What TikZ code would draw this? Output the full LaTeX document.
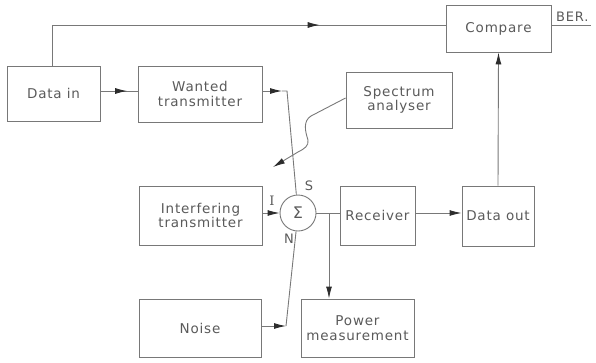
\documentclass[tikz,border=0pt]{standalone}
\usepackage{fontspec}
\setmainfont[LetterSpace=6]{DejaVu Sans}
\usetikzlibrary{arrows.meta,decorations.markings}
\definecolor{ln}{RGB}{120,120,120}
\definecolor{tx}{RGB}{90,90,90}
\definecolor{hd}{RGB}{45,45,45}
\tikzset{
  blk/.style={draw=ln,line width=0.9pt,text=tx,align=center,inner sep=0pt,font=\fontsize{13.5}{14.5}\selectfont},
  conn/.style={draw=ln,line width=0.9pt},
  tip/.style={-{Latex[length=12pt,width=6pt,color=hd]},draw=ln,line width=0.9pt},
  midarrow/.style={postaction={decorate},decoration={markings,mark=at position #1 with {\arrow{Latex[length=12pt,width=6pt,color=hd]}}}},
  lbl/.style={text=tx,font=\fontsize{13}{14}\selectfont,inner sep=0pt}
}
\begin{document}
\begin{tikzpicture}[x=1pt,y=-1pt]
\useasboundingbox (0,0) rectangle (596,362);
\node[blk,minimum width=93pt,minimum height=55pt] (datain) at (53.5,93.5) {Data in};
\node[blk,minimum width=124pt,minimum height=56pt] (wanted) at (200,94) {Wanted\\transmitter};
\node[blk,minimum width=105pt,minimum height=47pt] (compare) at (498.5,28.5) {Compare};
\node[blk,minimum width=106pt,minimum height=56pt] (spectrum) at (399,100) {Spectrum\\analyser};
\node[blk,minimum width=123pt,minimum height=59pt] (interf) at (200.5,215.5) {Interfering\\transmitter};
\node[blk,circle,minimum size=36pt,font=\fontsize{16}{16}\selectfont] (sum) at (298,213) {Σ};
\node[blk,minimum width=75pt,minimum height=59pt] (receiver) at (377.5,215.5) {Receiver};
\node[blk,minimum width=72pt,minimum height=60pt] (dataout) at (498,216) {Data out};
\node[blk,minimum width=122pt,minimum height=58pt] (noise) at (200,328) {Noise};
\node[blk,minimum width=113pt,minimum height=58pt] (power) at (357.5,328) {Power\\measurement};
\node[lbl] (S) at (309,186) {S};
\node[lbl] (I) at (272,201) {\fontspec{DejaVu Serif}I};
\node[lbl] (N) at (289,239) {N};
\node[lbl,anchor=south west] (ber) at (556,22) {BER.};
\coordinate (tl) at (52,25);
\coordinate (ws) at (287,91);
\coordinate (nc) at (286,326);
\coordinate (br) at (329,213);
\coordinate (berend) at (591,25);
% top feed
\draw[conn,midarrow=0.71] (datain.north -| tl) -- (tl) -- (tl -| compare.west);
% data in to wanted
\draw[conn,midarrow=0.72] (datain.east |- 0,91) -- (wanted.west |- 0,91);
% wanted to sum
\draw[tip] (wanted.east |- ws) -- ([xshift=-5pt]ws);
\draw[conn] ([xshift=-5pt]ws) -- (ws) -- (sum);
% interfering
\draw[tip] (interf.east |- sum) -- (sum);
% noise
\draw[tip] (noise.east |- nc) -- (nc);
\draw[conn] (nc) -- (sum);
% sum to receiver
\draw[conn] (sum) -- (receiver.west |- sum);
\draw[tip] (br) -- (br |- power.north);
\draw[tip] (receiver.east |- sum) -- (dataout.west |- sum);
\draw[tip] (dataout.north) -- (compare.south);
\draw[conn] (compare.east |- tl) -- (berend);
% spectrum analyser probe
\draw[tip] (spectrum.west |- 0,98) -- (311,116) .. controls (303,121) and (305,131) .. (308,140) .. controls (309,146) and (304,149) .. (298,152) -- (273,167);
\end{tikzpicture}
\end{document}
